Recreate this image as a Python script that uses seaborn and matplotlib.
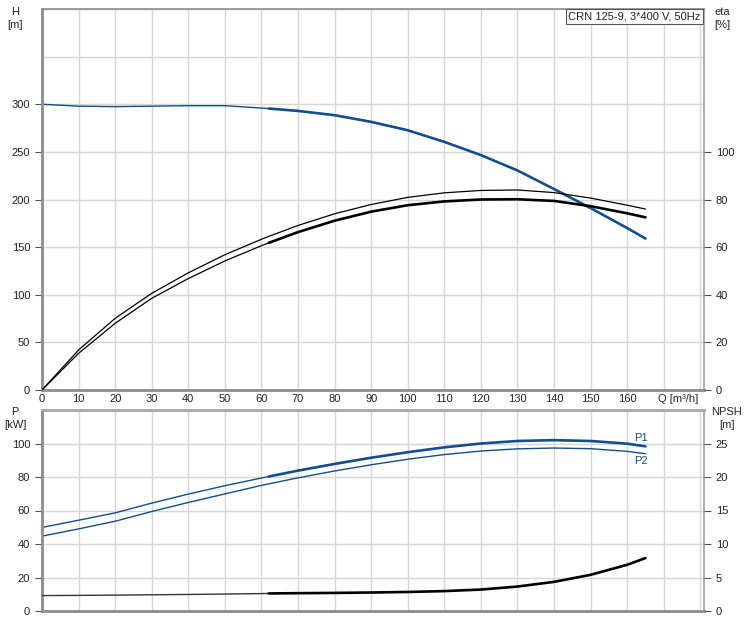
import matplotlib
matplotlib.use("Agg")
import matplotlib.pyplot as plt
import seaborn as sns
import pandas as pd

# pump curve data (Q in m3/h)
Q = [0, 10, 20, 30, 40, 50, 60, 62, 70, 80, 90, 100, 110, 120, 130, 140, 150, 160, 165]
H = [300, 298, 297.5, 298, 298.5, 298.5, 296, 295.5, 293, 288.5, 281.5, 272.7, 260.5, 246.6, 230.5, 211, 191, 170, 159]
ETA_1 = [0, 16.8, 30.1, 40.6, 49.2, 56.8, 63.3, 64.5, 69.1, 74.0, 77.9, 80.9, 82.8, 83.8, 84.0, 82.9, 80.6, 77.6, 76.0]
ETA_2 = [0, 15.4, 28, 38.5, 46.8, 54.2, 60.6, 61.8, 66.3, 71.1, 74.9, 77.6, 79.2, 80.0, 80.1, 79.4, 77.2, 74.2, 72.5]
P1 = [49.9, 54.2, 58.6, 64.4, 69.8, 74.8, 79.4, 80.3, 83.8, 87.8, 91.5, 94.8, 97.7, 100.0, 101.5, 102.0, 101.5, 99.9, 98.3]
P2 = [44.7, 49.0, 53.6, 59.4, 64.8, 69.9, 75.0, 75.9, 79.5, 83.6, 87.3, 90.6, 93.4, 95.5, 96.8, 97.3, 96.9, 95.3, 93.9]
NPSH = [2.3, 2.33, 2.37, 2.42, 2.47, 2.53, 2.6, 2.62, 2.66, 2.7, 2.76, 2.84, 2.97, 3.2, 3.65, 4.35, 5.4, 6.9, 7.9]

Q_SPLIT = 62  # curves are drawn thin below this flow, thick above
TITLE = "CRN 125-9, 3*400 V, 50Hz"

BLUE = "#124d8c"
GRID = "#d6d6d6"
SPINE = "#8c8c8c"

sns.set_style("white")
plt.rcParams['font.family'] = ['Liberation Sans', 'DejaVu Sans']
plt.rcParams['font.size'] = 8

df = pd.DataFrame({"Q": Q, "H": H, "eta1": ETA_1, "eta2": ETA_2,
                   "P1": P1, "P2": P2, "NPSH": NPSH})
lo = df[df["Q"] <= Q_SPLIT]
hi = df[df["Q"] >= Q_SPLIT]


def curve(data, col, ax, color, lw):
    sns.lineplot(data=data, x="Q", y=col, ax=ax, color=color, linewidth=lw,
                 estimator=None, sort=False, legend=False)


def style_axes(ax):
    for side in ["left", "bottom", "top"]:
        ax.spines[side].set_color(SPINE)
        ax.spines[side].set_linewidth(2)
    ax.spines["right"].set_color("#a0a0a0")
    ax.spines["right"].set_linewidth(1.2)
    ax.grid(True, which="both", color=GRID, linewidth=1)
    ax.set_axisbelow(True)
    ax.set_xlabel("")
    ax.set_ylabel("")


fig = plt.figure(figsize=(7.55, 6.3), dpi=100)
ax1 = fig.add_axes([42 / 755, 1 - 390 / 630, 662 / 755, 381 / 630])
ax2 = fig.add_axes([42 / 755, 1 - 611 / 630, 662 / 755, 201 / 630])

# ---- top: head + efficiency
curve(lo, "H", ax1, BLUE, 1.0)
curve(hi, "H", ax1, BLUE, 1.9)
ax1.set_xlim(0, 181)
ax1.set_ylim(0, 400)
ax1.set_xticks(range(0, 161, 10))
ax1.set_xticks([170, 180], minor=True)
ax1.set_yticks(range(0, 301, 50))
ax1.set_yticks([350, 400], minor=True)
style_axes(ax1)
ax1.spines["top"].set_linewidth(1.2)
ax1.tick_params(axis="x", which="both", length=0, pad=3, labelsize=8, labelcolor="#222")
ax1.tick_params(axis="y", which="major", length=5, color="#555", labelsize=8, labelcolor="#222")
ax1.tick_params(axis="y", which="minor", length=0)
ax1.text(174, -4, "Q [m³/h]", ha="center", va="top", fontsize=8, color="#222")

ax1r = ax1.twinx()
curve(df, "eta1", ax1r, "black", 0.9)
curve(lo, "eta2", ax1r, "black", 0.9)
curve(hi, "eta2", ax1r, "black", 1.9)
ax1r.set_ylim(0, 160)
ax1r.set_yticks(range(0, 101, 20))
ax1r.set_ylabel("")
for sp in ax1r.spines.values():
    sp.set_visible(False)
ax1r.tick_params(axis="y", length=5, color="#555", labelsize=8, labelcolor="#222")
ax1r.text(0.995, 0.993, TITLE, transform=ax1r.transAxes, ha="right", va="top",
          fontsize=8, color="#222",
          bbox=dict(facecolor="white", edgecolor="#555", boxstyle="square,pad=0.25", linewidth=0.8))

# ---- bottom: power + NPSH
curve(lo, "P1", ax2, BLUE, 1.0)
curve(hi, "P1", ax2, BLUE, 1.9)
curve(df, "P2", ax2, BLUE, 1.0)
ax2.set_xlim(0, 181)
ax2.set_ylim(0, 120)
ax2.set_xticks(range(0, 181, 10))
ax2.set_yticks(range(0, 101, 20))
ax2.set_yticks([120], minor=True)
style_axes(ax2)
ax2.spines["top"].set_color("#a8a8a8")
ax2.tick_params(axis="x", which="both", length=0, labelbottom=False)
ax2.tick_params(axis="y", which="major", length=5, color="#555", labelsize=8, labelcolor="#222")
ax2.tick_params(axis="y", which="minor", length=0)
ax2.text(162, 103.5, "P1", color=BLUE, fontsize=8, ha="left", va="center")
ax2.text(162, 89.5, "P2", color=BLUE, fontsize=8, ha="left", va="center")

ax2r = ax2.twinx()
curve(lo, "NPSH", ax2r, "#333333", 1.0)
curve(hi, "NPSH", ax2r, "black", 1.9)
ax2r.set_ylim(0, 30)
ax2r.set_yticks(range(0, 26, 5))
ax2r.set_ylabel("")
for sp in ax2r.spines.values():
    sp.set_visible(False)
ax2r.tick_params(axis="y", length=5, color="#555", labelsize=8, labelcolor="#222")

# axis titles
fig.text(15 / 755, 1 - 12 / 630, "H", ha="center", va="center", fontsize=8, color="#222")
fig.text(15 / 755, 1 - 25 / 630, "[m]", ha="center", va="center", fontsize=8, color="#222")
fig.text(722 / 755, 1 - 12 / 630, "eta", ha="center", va="center", fontsize=8, color="#222")
fig.text(722 / 755, 1 - 25 / 630, "[%]", ha="center", va="center", fontsize=8, color="#222")
fig.text(15 / 755, 1 - 412 / 630, "P", ha="center", va="center", fontsize=8, color="#222")
fig.text(15 / 755, 1 - 425 / 630, "[kW]", ha="center", va="center", fontsize=8, color="#222")
fig.text(727 / 755, 1 - 412 / 630, "NPSH", ha="center", va="center", fontsize=8, color="#222")
fig.text(727 / 755, 1 - 425 / 630, "[m]", ha="center", va="center", fontsize=8, color="#222")

fig.savefig("out.png", dpi=100, facecolor="white")
